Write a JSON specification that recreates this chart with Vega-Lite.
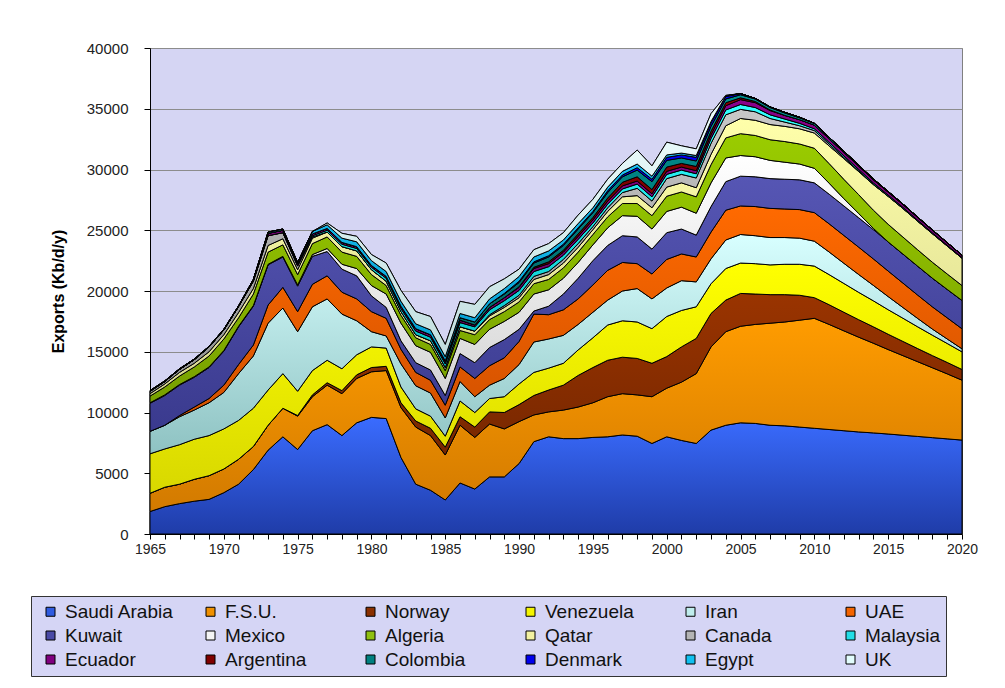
{
"$schema": "https://vega.github.io/schema/vega-lite/v6.json",
"width": 812, "height": 486,
"autosize": {"type": "none"},
"padding": {"left": 150, "top": 48, "right": 43, "bottom": 154},
"background": "white",
"config": {
 "font": "Liberation Sans",
 "view": {"fill": "#D5D5F3", "stroke": "#808080", "strokeWidth": 1},
 "axis": {"labelFont": "Liberation Sans", "labelFontSize": 14, "labelColor": "#222222", "tickColor": "#000000", "domainColor": "#000000", "titleFont": "Liberation Sans"}
},
"data": {"values": [
{"year":1965,"country":"Saudi Arabia","exports":1850},{"year":1966,"country":"Saudi Arabia","exports":2250},{"year":1967,"country":"Saudi Arabia","exports":2500},{"year":1968,"country":"Saudi Arabia","exports":2700},{"year":1969,"country":"Saudi Arabia","exports":2850},{"year":1970,"country":"Saudi Arabia","exports":3400},{"year":1971,"country":"Saudi Arabia","exports":4100},{"year":1972,"country":"Saudi Arabia","exports":5300},{"year":1973,"country":"Saudi Arabia","exports":6900},{"year":1974,"country":"Saudi Arabia","exports":8000},
{"year":1975,"country":"Saudi Arabia","exports":6950},{"year":1976,"country":"Saudi Arabia","exports":8500},{"year":1977,"country":"Saudi Arabia","exports":9000},{"year":1978,"country":"Saudi Arabia","exports":8100},{"year":1979,"country":"Saudi Arabia","exports":9150},{"year":1980,"country":"Saudi Arabia","exports":9600},{"year":1981,"country":"Saudi Arabia","exports":9500},{"year":1982,"country":"Saudi Arabia","exports":6300},{"year":1983,"country":"Saudi Arabia","exports":4100},{"year":1984,"country":"Saudi Arabia","exports":3600},
{"year":1985,"country":"Saudi Arabia","exports":2800},{"year":1986,"country":"Saudi Arabia","exports":4200},{"year":1987,"country":"Saudi Arabia","exports":3700},{"year":1988,"country":"Saudi Arabia","exports":4700},{"year":1989,"country":"Saudi Arabia","exports":4700},{"year":1990,"country":"Saudi Arabia","exports":5800},{"year":1991,"country":"Saudi Arabia","exports":7600},{"year":1992,"country":"Saudi Arabia","exports":8000},{"year":1993,"country":"Saudi Arabia","exports":7850},{"year":1994,"country":"Saudi Arabia","exports":7850},
{"year":1995,"country":"Saudi Arabia","exports":7950},{"year":1996,"country":"Saudi Arabia","exports":8000},{"year":1997,"country":"Saudi Arabia","exports":8150},{"year":1998,"country":"Saudi Arabia","exports":8050},{"year":1999,"country":"Saudi Arabia","exports":7450},{"year":2000,"country":"Saudi Arabia","exports":8000},{"year":2001,"country":"Saudi Arabia","exports":7700},{"year":2002,"country":"Saudi Arabia","exports":7450},{"year":2003,"country":"Saudi Arabia","exports":8550},{"year":2004,"country":"Saudi Arabia","exports":8950},
{"year":2005,"country":"Saudi Arabia","exports":9150},{"year":2006,"country":"Saudi Arabia","exports":9100},{"year":2007,"country":"Saudi Arabia","exports":8950},{"year":2008,"country":"Saudi Arabia","exports":8900},{"year":2009,"country":"Saudi Arabia","exports":8800},{"year":2010,"country":"Saudi Arabia","exports":8700},{"year":2011,"country":"Saudi Arabia","exports":8600},{"year":2012,"country":"Saudi Arabia","exports":8500},{"year":2013,"country":"Saudi Arabia","exports":8400},{"year":2014,"country":"Saudi Arabia","exports":8320},
{"year":2015,"country":"Saudi Arabia","exports":8230},{"year":2016,"country":"Saudi Arabia","exports":8130},{"year":2017,"country":"Saudi Arabia","exports":8030},{"year":2018,"country":"Saudi Arabia","exports":7930},{"year":2019,"country":"Saudi Arabia","exports":7830},{"year":2020,"country":"Saudi Arabia","exports":7730},

{"year":1965,"country":"F.S.U.","exports":1500},{"year":1966,"country":"F.S.U.","exports":1600},{"year":1967,"country":"F.S.U.","exports":1600},{"year":1968,"country":"F.S.U.","exports":1800},{"year":1969,"country":"F.S.U.","exports":1950},{"year":1970,"country":"F.S.U.","exports":1950},{"year":1971,"country":"F.S.U.","exports":2050},{"year":1972,"country":"F.S.U.","exports":1900},{"year":1973,"country":"F.S.U.","exports":2050},{"year":1974,"country":"F.S.U.","exports":2350},
{"year":1975,"country":"F.S.U.","exports":2750},{"year":1976,"country":"F.S.U.","exports":2800},{"year":1977,"country":"F.S.U.","exports":3250},{"year":1978,"country":"F.S.U.","exports":3450},{"year":1979,"country":"F.S.U.","exports":3650},{"year":1980,"country":"F.S.U.","exports":3750},{"year":1981,"country":"F.S.U.","exports":3950},{"year":1982,"country":"F.S.U.","exports":4100},{"year":1983,"country":"F.S.U.","exports":4700},{"year":1984,"country":"F.S.U.","exports":4500},
{"year":1985,"country":"F.S.U.","exports":3700},{"year":1986,"country":"F.S.U.","exports":4750},{"year":1987,"country":"F.S.U.","exports":4250},{"year":1988,"country":"F.S.U.","exports":4350},{"year":1989,"country":"F.S.U.","exports":3950},{"year":1990,"country":"F.S.U.","exports":3450},{"year":1991,"country":"F.S.U.","exports":2200},{"year":1992,"country":"F.S.U.","exports":2050},{"year":1993,"country":"F.S.U.","exports":2350},{"year":1994,"country":"F.S.U.","exports":2600},
{"year":1995,"country":"F.S.U.","exports":2850},{"year":1996,"country":"F.S.U.","exports":3300},{"year":1997,"country":"F.S.U.","exports":3400},{"year":1998,"country":"F.S.U.","exports":3400},{"year":1999,"country":"F.S.U.","exports":3850},{"year":2000,"country":"F.S.U.","exports":4000},{"year":2001,"country":"F.S.U.","exports":4800},{"year":2002,"country":"F.S.U.","exports":5750},{"year":2003,"country":"F.S.U.","exports":6850},{"year":2004,"country":"F.S.U.","exports":7700},
{"year":2005,"country":"F.S.U.","exports":7950},{"year":2006,"country":"F.S.U.","exports":8150},{"year":2007,"country":"F.S.U.","exports":8400},{"year":2008,"country":"F.S.U.","exports":8550},{"year":2009,"country":"F.S.U.","exports":8800},{"year":2010,"country":"F.S.U.","exports":9050},{"year":2011,"country":"F.S.U.","exports":8650},{"year":2012,"country":"F.S.U.","exports":8220},{"year":2013,"country":"F.S.U.","exports":7800},{"year":2014,"country":"F.S.U.","exports":7380},
{"year":2015,"country":"F.S.U.","exports":6950},{"year":2016,"country":"F.S.U.","exports":6550},{"year":2017,"country":"F.S.U.","exports":6150},{"year":2018,"country":"F.S.U.","exports":5750},{"year":2019,"country":"F.S.U.","exports":5350},{"year":2020,"country":"F.S.U.","exports":4930},

{"year":1965,"country":"Norway","exports":0},{"year":1966,"country":"Norway","exports":0},{"year":1967,"country":"Norway","exports":0},{"year":1968,"country":"Norway","exports":0},{"year":1969,"country":"Norway","exports":0},{"year":1970,"country":"Norway","exports":0},{"year":1971,"country":"Norway","exports":0},{"year":1972,"country":"Norway","exports":0},{"year":1973,"country":"Norway","exports":0},{"year":1974,"country":"Norway","exports":0},
{"year":1975,"country":"Norway","exports":50},{"year":1976,"country":"Norway","exports":150},{"year":1977,"country":"Norway","exports":200},{"year":1978,"country":"Norway","exports":250},{"year":1979,"country":"Norway","exports":300},{"year":1980,"country":"Norway","exports":350},{"year":1981,"country":"Norway","exports":350},{"year":1982,"country":"Norway","exports":400},{"year":1983,"country":"Norway","exports":500},{"year":1984,"country":"Norway","exports":600},
{"year":1985,"country":"Norway","exports":650},{"year":1986,"country":"Norway","exports":700},{"year":1987,"country":"Norway","exports":850},{"year":1988,"country":"Norway","exports":1000},{"year":1989,"country":"Norway","exports":1350},{"year":1990,"country":"Norway","exports":1400},{"year":1991,"country":"Norway","exports":1600},{"year":1992,"country":"Norway","exports":1800},{"year":1993,"country":"Norway","exports":2050},{"year":1994,"country":"Norway","exports":2600},
{"year":1995,"country":"Norway","exports":2900},{"year":1996,"country":"Norway","exports":3000},{"year":1997,"country":"Norway","exports":3000},{"year":1998,"country":"Norway","exports":3000},{"year":1999,"country":"Norway","exports":2750},{"year":2000,"country":"Norway","exports":2600},{"year":2001,"country":"Norway","exports":2900},{"year":2002,"country":"Norway","exports":2900},{"year":2003,"country":"Norway","exports":2750},{"year":2004,"country":"Norway","exports":2600},
{"year":2005,"country":"Norway","exports":2700},{"year":2006,"country":"Norway","exports":2500},{"year":2007,"country":"Norway","exports":2350},{"year":2008,"country":"Norway","exports":2250},{"year":2009,"country":"Norway","exports":2050},{"year":2010,"country":"Norway","exports":1700},{"year":2011,"country":"Norway","exports":1620},{"year":2012,"country":"Norway","exports":1530},{"year":2013,"country":"Norway","exports":1440},{"year":2014,"country":"Norway","exports":1350},
{"year":2015,"country":"Norway","exports":1260},{"year":2016,"country":"Norway","exports":1170},{"year":2017,"country":"Norway","exports":1080},{"year":2018,"country":"Norway","exports":1000},{"year":2019,"country":"Norway","exports":940},{"year":2020,"country":"Norway","exports":880},

{"year":1965,"country":"Venezuela","exports":3250},{"year":1966,"country":"Venezuela","exports":3150},{"year":1967,"country":"Venezuela","exports":3250},{"year":1968,"country":"Venezuela","exports":3300},{"year":1969,"country":"Venezuela","exports":3300},{"year":1970,"country":"Venezuela","exports":3300},{"year":1971,"country":"Venezuela","exports":3200},{"year":1972,"country":"Venezuela","exports":3150},{"year":1973,"country":"Venezuela","exports":2900},{"year":1974,"country":"Venezuela","exports":2850},
{"year":1975,"country":"Venezuela","exports":2000},{"year":1976,"country":"Venezuela","exports":2000},{"year":1977,"country":"Venezuela","exports":1850},{"year":1978,"country":"Venezuela","exports":1800},{"year":1979,"country":"Venezuela","exports":1650},{"year":1980,"country":"Venezuela","exports":1700},{"year":1981,"country":"Venezuela","exports":1500},{"year":1982,"country":"Venezuela","exports":1300},{"year":1983,"country":"Venezuela","exports":1000},{"year":1984,"country":"Venezuela","exports":1000},
{"year":1985,"country":"Venezuela","exports":900},{"year":1986,"country":"Venezuela","exports":1300},{"year":1987,"country":"Venezuela","exports":1200},{"year":1988,"country":"Venezuela","exports":1100},{"year":1989,"country":"Venezuela","exports":1300},{"year":1990,"country":"Venezuela","exports":1700},{"year":1991,"country":"Venezuela","exports":1900},{"year":1992,"country":"Venezuela","exports":1800},{"year":1993,"country":"Venezuela","exports":1800},{"year":1994,"country":"Venezuela","exports":2100},
{"year":1995,"country":"Venezuela","exports":2450},{"year":1996,"country":"Venezuela","exports":2900},{"year":1997,"country":"Venezuela","exports":3000},{"year":1998,"country":"Venezuela","exports":3000},{"year":1999,"country":"Venezuela","exports":2850},{"year":2000,"country":"Venezuela","exports":3300},{"year":2001,"country":"Venezuela","exports":3000},{"year":2002,"country":"Venezuela","exports":2600},{"year":2003,"country":"Venezuela","exports":2450},{"year":2004,"country":"Venezuela","exports":2600},
{"year":2005,"country":"Venezuela","exports":2500},{"year":2006,"country":"Venezuela","exports":2500},{"year":2007,"country":"Venezuela","exports":2450},{"year":2008,"country":"Venezuela","exports":2500},{"year":2009,"country":"Venezuela","exports":2550},{"year":2010,"country":"Venezuela","exports":2600},{"year":2011,"country":"Venezuela","exports":2480},{"year":2012,"country":"Venezuela","exports":2370},{"year":2013,"country":"Venezuela","exports":2250},{"year":2014,"country":"Venezuela","exports":2140},
{"year":2015,"country":"Venezuela","exports":2020},{"year":2016,"country":"Venezuela","exports":1910},{"year":2017,"country":"Venezuela","exports":1790},{"year":2018,"country":"Venezuela","exports":1680},{"year":2019,"country":"Venezuela","exports":1560},{"year":2020,"country":"Venezuela","exports":1450},

{"year":1965,"country":"Iran","exports":1850},{"year":1966,"country":"Iran","exports":1950},{"year":1967,"country":"Iran","exports":2300},{"year":1968,"country":"Iran","exports":2400},{"year":1969,"country":"Iran","exports":2700},{"year":1970,"country":"Iran","exports":3000},{"year":1971,"country":"Iran","exports":3850},{"year":1972,"country":"Iran","exports":4300},{"year":1973,"country":"Iran","exports":5500},{"year":1974,"country":"Iran","exports":5400},
{"year":1975,"country":"Iran","exports":4900},{"year":1976,"country":"Iran","exports":5250},{"year":1977,"country":"Iran","exports":5050},{"year":1978,"country":"Iran","exports":4500},{"year":1979,"country":"Iran","exports":2800},{"year":1980,"country":"Iran","exports":1250},{"year":1981,"country":"Iran","exports":1000},{"year":1982,"country":"Iran","exports":1900},{"year":1983,"country":"Iran","exports":1900},{"year":1984,"country":"Iran","exports":1900},
{"year":1985,"country":"Iran","exports":1500},{"year":1986,"country":"Iran","exports":1600},{"year":1987,"country":"Iran","exports":1300},{"year":1988,"country":"Iran","exports":1100},{"year":1989,"country":"Iran","exports":1500},{"year":1990,"country":"Iran","exports":1600},{"year":1991,"country":"Iran","exports":2500},{"year":1992,"country":"Iran","exports":2400},{"year":1993,"country":"Iran","exports":2300},{"year":1994,"country":"Iran","exports":2100},
{"year":1995,"country":"Iran","exports":2100},{"year":1996,"country":"Iran","exports":2050},{"year":1997,"country":"Iran","exports":2450},{"year":1998,"country":"Iran","exports":2750},{"year":1999,"country":"Iran","exports":2450},{"year":2000,"country":"Iran","exports":2350},{"year":2001,"country":"Iran","exports":2450},{"year":2002,"country":"Iran","exports":2050},{"year":2003,"country":"Iran","exports":2050},{"year":2004,"country":"Iran","exports":2350},
{"year":2005,"country":"Iran","exports":2350},{"year":2006,"country":"Iran","exports":2300},{"year":2007,"country":"Iran","exports":2250},{"year":2008,"country":"Iran","exports":2200},{"year":2009,"country":"Iran","exports":2150},{"year":2010,"country":"Iran","exports":2050},{"year":2011,"country":"Iran","exports":1860},{"year":2012,"country":"Iran","exports":1660},{"year":2013,"country":"Iran","exports":1470},{"year":2014,"country":"Iran","exports":1270},
{"year":2015,"country":"Iran","exports":1080},{"year":2016,"country":"Iran","exports":880},{"year":2017,"country":"Iran","exports":690},{"year":2018,"country":"Iran","exports":500},{"year":2019,"country":"Iran","exports":370},{"year":2020,"country":"Iran","exports":250},

{"year":1965,"country":"UAE","exports":0},{"year":1966,"country":"UAE","exports":0},{"year":1967,"country":"UAE","exports":100},{"year":1968,"country":"UAE","exports":250},{"year":1969,"country":"UAE","exports":350},{"year":1970,"country":"UAE","exports":600},{"year":1971,"country":"UAE","exports":750},{"year":1972,"country":"UAE","exports":900},{"year":1973,"country":"UAE","exports":1500},{"year":1974,"country":"UAE","exports":1700},
{"year":1975,"country":"UAE","exports":1650},{"year":1976,"country":"UAE","exports":1850},{"year":1977,"country":"UAE","exports":1900},{"year":1978,"country":"UAE","exports":1800},{"year":1979,"country":"UAE","exports":1800},{"year":1980,"country":"UAE","exports":1650},{"year":1981,"country":"UAE","exports":1450},{"year":1982,"country":"UAE","exports":1200},{"year":1983,"country":"UAE","exports":1100},{"year":1984,"country":"UAE","exports":1050},
{"year":1985,"country":"UAE","exports":1050},{"year":1986,"country":"UAE","exports":1200},{"year":1987,"country":"UAE","exports":1500},{"year":1988,"country":"UAE","exports":1600},{"year":1989,"country":"UAE","exports":1700},{"year":1990,"country":"UAE","exports":1900},{"year":1991,"country":"UAE","exports":2300},{"year":1992,"country":"UAE","exports":2000},{"year":1993,"country":"UAE","exports":2100},{"year":1994,"country":"UAE","exports":2100},
{"year":1995,"country":"UAE","exports":2250},{"year":1996,"country":"UAE","exports":2450},{"year":1997,"country":"UAE","exports":2350},{"year":1998,"country":"UAE","exports":2050},{"year":1999,"country":"UAE","exports":2050},{"year":2000,"country":"UAE","exports":2350},{"year":2001,"country":"UAE","exports":2200},{"year":2002,"country":"UAE","exports":2050},{"year":2003,"country":"UAE","exports":2200},{"year":2004,"country":"UAE","exports":2450},
{"year":2005,"country":"UAE","exports":2350},{"year":2006,"country":"UAE","exports":2400},{"year":2007,"country":"UAE","exports":2400},{"year":2008,"country":"UAE","exports":2350},{"year":2009,"country":"UAE","exports":2350},{"year":2010,"country":"UAE","exports":2350},{"year":2011,"country":"UAE","exports":2320},{"year":2012,"country":"UAE","exports":2290},{"year":2013,"country":"UAE","exports":2250},{"year":2014,"country":"UAE","exports":2180},
{"year":2015,"country":"UAE","exports":2100},{"year":2016,"country":"UAE","exports":2010},{"year":2017,"country":"UAE","exports":1920},{"year":2018,"country":"UAE","exports":1830},{"year":2019,"country":"UAE","exports":1740},{"year":2020,"country":"UAE","exports":1650},

{"year":1965,"country":"Kuwait","exports":2300},{"year":1966,"country":"Kuwait","exports":2450},{"year":1967,"country":"Kuwait","exports":2500},{"year":1968,"country":"Kuwait","exports":2450},{"year":1969,"country":"Kuwait","exports":2550},{"year":1970,"country":"Kuwait","exports":2800},{"year":1971,"country":"Kuwait","exports":3100},{"year":1972,"country":"Kuwait","exports":3200},{"year":1973,"country":"Kuwait","exports":3300},{"year":1974,"country":"Kuwait","exports":2500},
{"year":1975,"country":"Kuwait","exports":2100},{"year":1976,"country":"Kuwait","exports":2300},{"year":1977,"country":"Kuwait","exports":2000},{"year":1978,"country":"Kuwait","exports":1900},{"year":1979,"country":"Kuwait","exports":1900},{"year":1980,"country":"Kuwait","exports":1300},{"year":1981,"country":"Kuwait","exports":900},{"year":1982,"country":"Kuwait","exports":700},{"year":1983,"country":"Kuwait","exports":800},{"year":1984,"country":"Kuwait","exports":850},
{"year":1985,"country":"Kuwait","exports":800},{"year":1986,"country":"Kuwait","exports":1100},{"year":1987,"country":"Kuwait","exports":1300},{"year":1988,"country":"Kuwait","exports":1500},{"year":1989,"country":"Kuwait","exports":1500},{"year":1990,"country":"Kuwait","exports":1000},{"year":1991,"country":"Kuwait","exports":250},{"year":1992,"country":"Kuwait","exports":700},{"year":1993,"country":"Kuwait","exports":1300},{"year":1994,"country":"Kuwait","exports":1700},
{"year":1995,"country":"Kuwait","exports":2000},{"year":1996,"country":"Kuwait","exports":2050},{"year":1997,"country":"Kuwait","exports":2200},{"year":1998,"country":"Kuwait","exports":2200},{"year":1999,"country":"Kuwait","exports":2050},{"year":2000,"country":"Kuwait","exports":2200},{"year":2001,"country":"Kuwait","exports":2050},{"year":2002,"country":"Kuwait","exports":1800},{"year":2003,"country":"Kuwait","exports":2100},{"year":2004,"country":"Kuwait","exports":2350},
{"year":2005,"country":"Kuwait","exports":2450},{"year":2006,"country":"Kuwait","exports":2450},{"year":2007,"country":"Kuwait","exports":2450},{"year":2008,"country":"Kuwait","exports":2450},{"year":2009,"country":"Kuwait","exports":2450},{"year":2010,"country":"Kuwait","exports":2450},{"year":2011,"country":"Kuwait","exports":2440},{"year":2012,"country":"Kuwait","exports":2430},{"year":2013,"country":"Kuwait","exports":2420},{"year":2014,"country":"Kuwait","exports":2410},
{"year":2015,"country":"Kuwait","exports":2400},{"year":2016,"country":"Kuwait","exports":2390},{"year":2017,"country":"Kuwait","exports":2380},{"year":2018,"country":"Kuwait","exports":2360},{"year":2019,"country":"Kuwait","exports":2340},{"year":2020,"country":"Kuwait","exports":2330},

{"year":1965,"country":"Mexico","exports":50},{"year":1966,"country":"Mexico","exports":50},{"year":1967,"country":"Mexico","exports":50},{"year":1968,"country":"Mexico","exports":50},{"year":1969,"country":"Mexico","exports":50},{"year":1970,"country":"Mexico","exports":50},{"year":1971,"country":"Mexico","exports":50},{"year":1972,"country":"Mexico","exports":50},{"year":1973,"country":"Mexico","exports":50},{"year":1974,"country":"Mexico","exports":50},
{"year":1975,"country":"Mexico","exports":100},{"year":1976,"country":"Mexico","exports":150},{"year":1977,"country":"Mexico","exports":250},{"year":1978,"country":"Mexico","exports":400},{"year":1979,"country":"Mexico","exports":600},{"year":1980,"country":"Mexico","exports":850},{"year":1981,"country":"Mexico","exports":1100},{"year":1982,"country":"Mexico","exports":1450},{"year":1983,"country":"Mexico","exports":1400},{"year":1984,"country":"Mexico","exports":1450},
{"year":1985,"country":"Mexico","exports":1400},{"year":1986,"country":"Mexico","exports":1250},{"year":1987,"country":"Mexico","exports":1500},{"year":1988,"country":"Mexico","exports":1500},{"year":1989,"country":"Mexico","exports":1500},{"year":1990,"country":"Mexico","exports":1400},{"year":1991,"country":"Mexico","exports":1400},{"year":1992,"country":"Mexico","exports":1350},{"year":1993,"country":"Mexico","exports":1300},{"year":1994,"country":"Mexico","exports":1300},
{"year":1995,"country":"Mexico","exports":1300},{"year":1996,"country":"Mexico","exports":1450},{"year":1997,"country":"Mexico","exports":1650},{"year":1998,"country":"Mexico","exports":1700},{"year":1999,"country":"Mexico","exports":1650},{"year":2000,"country":"Mexico","exports":1750},{"year":2001,"country":"Mexico","exports":1800},{"year":2002,"country":"Mexico","exports":1800},{"year":2003,"country":"Mexico","exports":1950},{"year":2004,"country":"Mexico","exports":1950},
{"year":2005,"country":"Mexico","exports":1700},{"year":2006,"country":"Mexico","exports":1650},{"year":2007,"country":"Mexico","exports":1500},{"year":2008,"country":"Mexico","exports":1400},{"year":2009,"country":"Mexico","exports":1300},{"year":2010,"country":"Mexico","exports":1200},{"year":2011,"country":"Mexico","exports":900},{"year":2012,"country":"Mexico","exports":600},{"year":2013,"country":"Mexico","exports":350},{"year":2014,"country":"Mexico","exports":100},
{"year":2015,"country":"Mexico","exports":0},{"year":2016,"country":"Mexico","exports":0},{"year":2017,"country":"Mexico","exports":0},{"year":2018,"country":"Mexico","exports":0},{"year":2019,"country":"Mexico","exports":0},{"year":2020,"country":"Mexico","exports":0},

{"year":1965,"country":"Algeria","exports":550},{"year":1966,"country":"Algeria","exports":650},{"year":1967,"country":"Algeria","exports":700},{"year":1968,"country":"Algeria","exports":800},{"year":1969,"country":"Algeria","exports":900},{"year":1970,"country":"Algeria","exports":950},{"year":1971,"country":"Algeria","exports":700},{"year":1972,"country":"Algeria","exports":950},{"year":1973,"country":"Algeria","exports":1000},{"year":1974,"country":"Algeria","exports":950},
{"year":1975,"country":"Algeria","exports":850},{"year":1976,"country":"Algeria","exports":900},{"year":1977,"country":"Algeria","exports":950},{"year":1978,"country":"Algeria","exports":1000},{"year":1979,"country":"Algeria","exports":1000},{"year":1980,"country":"Algeria","exports":900},{"year":1981,"country":"Algeria","exports":700},{"year":1982,"country":"Algeria","exports":650},{"year":1983,"country":"Algeria","exports":650},{"year":1984,"country":"Algeria","exports":650},
{"year":1985,"country":"Algeria","exports":650},{"year":1986,"country":"Algeria","exports":650},{"year":1987,"country":"Algeria","exports":800},{"year":1988,"country":"Algeria","exports":800},{"year":1989,"country":"Algeria","exports":800},{"year":1990,"country":"Algeria","exports":850},{"year":1991,"country":"Algeria","exports":850},{"year":1992,"country":"Algeria","exports":850},{"year":1993,"country":"Algeria","exports":850},{"year":1994,"country":"Algeria","exports":850},
{"year":1995,"country":"Algeria","exports":850},{"year":1996,"country":"Algeria","exports":900},{"year":1997,"country":"Algeria","exports":1000},{"year":1998,"country":"Algeria","exports":1050},{"year":1999,"country":"Algeria","exports":1100},{"year":2000,"country":"Algeria","exports":1250},{"year":2001,"country":"Algeria","exports":1250},{"year":2002,"country":"Algeria","exports":1350},{"year":2003,"country":"Algeria","exports":1500},{"year":2004,"country":"Algeria","exports":1650},
{"year":2005,"country":"Algeria","exports":1800},{"year":2006,"country":"Algeria","exports":1750},{"year":2007,"country":"Algeria","exports":1700},{"year":2008,"country":"Algeria","exports":1700},{"year":2009,"country":"Algeria","exports":1650},{"year":2010,"country":"Algeria","exports":1650},{"year":2011,"country":"Algeria","exports":1620},{"year":2012,"country":"Algeria","exports":1590},{"year":2013,"country":"Algeria","exports":1550},{"year":2014,"country":"Algeria","exports":1500},
{"year":2015,"country":"Algeria","exports":1450},{"year":2016,"country":"Algeria","exports":1400},{"year":2017,"country":"Algeria","exports":1350},{"year":2018,"country":"Algeria","exports":1310},{"year":2019,"country":"Algeria","exports":1270},{"year":2020,"country":"Algeria","exports":1230},

{"year":1965,"country":"Qatar","exports":200},{"year":1966,"country":"Qatar","exports":250},{"year":1967,"country":"Qatar","exports":300},{"year":1968,"country":"Qatar","exports":300},{"year":1969,"country":"Qatar","exports":350},{"year":1970,"country":"Qatar","exports":350},{"year":1971,"country":"Qatar","exports":430},{"year":1972,"country":"Qatar","exports":450},{"year":1973,"country":"Qatar","exports":550},{"year":1974,"country":"Qatar","exports":500},
{"year":1975,"country":"Qatar","exports":400},{"year":1976,"country":"Qatar","exports":450},{"year":1977,"country":"Qatar","exports":400},{"year":1978,"country":"Qatar","exports":450},{"year":1979,"country":"Qatar","exports":450},{"year":1980,"country":"Qatar","exports":400},{"year":1981,"country":"Qatar","exports":350},{"year":1982,"country":"Qatar","exports":300},{"year":1983,"country":"Qatar","exports":250},{"year":1984,"country":"Qatar","exports":300},
{"year":1985,"country":"Qatar","exports":250},{"year":1986,"country":"Qatar","exports":300},{"year":1987,"country":"Qatar","exports":300},{"year":1988,"country":"Qatar","exports":300},{"year":1989,"country":"Qatar","exports":350},{"year":1990,"country":"Qatar","exports":350},{"year":1991,"country":"Qatar","exports":350},{"year":1992,"country":"Qatar","exports":400},{"year":1993,"country":"Qatar","exports":400},{"year":1994,"country":"Qatar","exports":400},
{"year":1995,"country":"Qatar","exports":400},{"year":1996,"country":"Qatar","exports":450},{"year":1997,"country":"Qatar","exports":550},{"year":1998,"country":"Qatar","exports":650},{"year":1999,"country":"Qatar","exports":650},{"year":2000,"country":"Qatar","exports":750},{"year":2001,"country":"Qatar","exports":750},{"year":2002,"country":"Qatar","exports":750},{"year":2003,"country":"Qatar","exports":850},{"year":2004,"country":"Qatar","exports":1000},
{"year":2005,"country":"Qatar","exports":1250},{"year":2006,"country":"Qatar","exports":1250},{"year":2007,"country":"Qatar","exports":1250},{"year":2008,"country":"Qatar","exports":1250},{"year":2009,"country":"Qatar","exports":1250},{"year":2010,"country":"Qatar","exports":1250},{"year":2011,"country":"Qatar","exports":1450},{"year":2012,"country":"Qatar","exports":1700},{"year":2013,"country":"Qatar","exports":1900},{"year":2014,"country":"Qatar","exports":2100},
{"year":2015,"country":"Qatar","exports":2300},{"year":2016,"country":"Qatar","exports":2350},{"year":2017,"country":"Qatar","exports":2350},{"year":2018,"country":"Qatar","exports":2350},{"year":2019,"country":"Qatar","exports":2300},{"year":2020,"country":"Qatar","exports":2250},

{"year":1965,"country":"Canada","exports":200},{"year":1966,"country":"Canada","exports":200},{"year":1967,"country":"Canada","exports":250},{"year":1968,"country":"Canada","exports":300},{"year":1969,"country":"Canada","exports":400},{"year":1970,"country":"Canada","exports":400},{"year":1971,"country":"Canada","exports":500},{"year":1972,"country":"Canada","exports":600},{"year":1973,"country":"Canada","exports":800},{"year":1974,"country":"Canada","exports":500},
{"year":1975,"country":"Canada","exports":300},{"year":1976,"country":"Canada","exports":100},{"year":1977,"country":"Canada","exports":0},{"year":1978,"country":"Canada","exports":0},{"year":1979,"country":"Canada","exports":0},{"year":1980,"country":"Canada","exports":0},{"year":1981,"country":"Canada","exports":0},{"year":1982,"country":"Canada","exports":0},{"year":1983,"country":"Canada","exports":0},{"year":1984,"country":"Canada","exports":0},
{"year":1985,"country":"Canada","exports":0},{"year":1986,"country":"Canada","exports":0},{"year":1987,"country":"Canada","exports":0},{"year":1988,"country":"Canada","exports":100},{"year":1989,"country":"Canada","exports":150},{"year":1990,"country":"Canada","exports":200},{"year":1991,"country":"Canada","exports":250},{"year":1992,"country":"Canada","exports":250},{"year":1993,"country":"Canada","exports":300},{"year":1994,"country":"Canada","exports":300},
{"year":1995,"country":"Canada","exports":250},{"year":1996,"country":"Canada","exports":300},{"year":1997,"country":"Canada","exports":350},{"year":1998,"country":"Canada","exports":600},{"year":1999,"country":"Canada","exports":550},{"year":2000,"country":"Canada","exports":700},{"year":2001,"country":"Canada","exports":700},{"year":2002,"country":"Canada","exports":800},{"year":2003,"country":"Canada","exports":900},{"year":2004,"country":"Canada","exports":900},
{"year":2005,"country":"Canada","exports":750},{"year":2006,"country":"Canada","exports":700},{"year":2007,"country":"Canada","exports":500},{"year":2008,"country":"Canada","exports":350},{"year":2009,"country":"Canada","exports":250},{"year":2010,"country":"Canada","exports":200},{"year":2011,"country":"Canada","exports":150},{"year":2012,"country":"Canada","exports":100},{"year":2013,"country":"Canada","exports":60},{"year":2014,"country":"Canada","exports":30},
{"year":2015,"country":"Canada","exports":0},{"year":2016,"country":"Canada","exports":0},{"year":2017,"country":"Canada","exports":0},{"year":2018,"country":"Canada","exports":0},{"year":2019,"country":"Canada","exports":0},{"year":2020,"country":"Canada","exports":0},

{"year":1965,"country":"Malaysia","exports":0},{"year":1966,"country":"Malaysia","exports":0},{"year":1967,"country":"Malaysia","exports":0},{"year":1968,"country":"Malaysia","exports":0},{"year":1969,"country":"Malaysia","exports":0},{"year":1970,"country":"Malaysia","exports":0},{"year":1971,"country":"Malaysia","exports":0},{"year":1972,"country":"Malaysia","exports":0},{"year":1973,"country":"Malaysia","exports":0},{"year":1974,"country":"Malaysia","exports":0},
{"year":1975,"country":"Malaysia","exports":50},{"year":1976,"country":"Malaysia","exports":100},{"year":1977,"country":"Malaysia","exports":150},{"year":1978,"country":"Malaysia","exports":200},{"year":1979,"country":"Malaysia","exports":200},{"year":1980,"country":"Malaysia","exports":200},{"year":1981,"country":"Malaysia","exports":250},{"year":1982,"country":"Malaysia","exports":250},{"year":1983,"country":"Malaysia","exports":300},{"year":1984,"country":"Malaysia","exports":300},
{"year":1985,"country":"Malaysia","exports":300},{"year":1986,"country":"Malaysia","exports":350},{"year":1987,"country":"Malaysia","exports":350},{"year":1988,"country":"Malaysia","exports":400},{"year":1989,"country":"Malaysia","exports":400},{"year":1990,"country":"Malaysia","exports":400},{"year":1991,"country":"Malaysia","exports":400},{"year":1992,"country":"Malaysia","exports":400},{"year":1993,"country":"Malaysia","exports":350},{"year":1994,"country":"Malaysia","exports":350},
{"year":1995,"country":"Malaysia","exports":300},{"year":1996,"country":"Malaysia","exports":300},{"year":1997,"country":"Malaysia","exports":300},{"year":1998,"country":"Malaysia","exports":350},{"year":1999,"country":"Malaysia","exports":350},{"year":2000,"country":"Malaysia","exports":350},{"year":2001,"country":"Malaysia","exports":350},{"year":2002,"country":"Malaysia","exports":350},{"year":2003,"country":"Malaysia","exports":400},{"year":2004,"country":"Malaysia","exports":400},
{"year":2005,"country":"Malaysia","exports":400},{"year":2006,"country":"Malaysia","exports":350},{"year":2007,"country":"Malaysia","exports":300},{"year":2008,"country":"Malaysia","exports":250},{"year":2009,"country":"Malaysia","exports":200},{"year":2010,"country":"Malaysia","exports":150},{"year":2011,"country":"Malaysia","exports":140},{"year":2012,"country":"Malaysia","exports":130},{"year":2013,"country":"Malaysia","exports":120},{"year":2014,"country":"Malaysia","exports":110},
{"year":2015,"country":"Malaysia","exports":100},{"year":2016,"country":"Malaysia","exports":90},{"year":2017,"country":"Malaysia","exports":80},{"year":2018,"country":"Malaysia","exports":70},{"year":2019,"country":"Malaysia","exports":60},{"year":2020,"country":"Malaysia","exports":50},

{"year":1965,"country":"Ecuador","exports":0},{"year":1966,"country":"Ecuador","exports":0},{"year":1967,"country":"Ecuador","exports":0},{"year":1968,"country":"Ecuador","exports":0},{"year":1969,"country":"Ecuador","exports":0},{"year":1970,"country":"Ecuador","exports":0},{"year":1971,"country":"Ecuador","exports":0},{"year":1972,"country":"Ecuador","exports":100},{"year":1973,"country":"Ecuador","exports":200},{"year":1974,"country":"Ecuador","exports":200},
{"year":1975,"country":"Ecuador","exports":150},{"year":1976,"country":"Ecuador","exports":150},{"year":1977,"country":"Ecuador","exports":150},{"year":1978,"country":"Ecuador","exports":150},{"year":1979,"country":"Ecuador","exports":150},{"year":1980,"country":"Ecuador","exports":150},{"year":1981,"country":"Ecuador","exports":150},{"year":1982,"country":"Ecuador","exports":200},{"year":1983,"country":"Ecuador","exports":200},{"year":1984,"country":"Ecuador","exports":200},
{"year":1985,"country":"Ecuador","exports":200},{"year":1986,"country":"Ecuador","exports":200},{"year":1987,"country":"Ecuador","exports":150},{"year":1988,"country":"Ecuador","exports":200},{"year":1989,"country":"Ecuador","exports":250},{"year":1990,"country":"Ecuador","exports":250},{"year":1991,"country":"Ecuador","exports":250},{"year":1992,"country":"Ecuador","exports":250},{"year":1993,"country":"Ecuador","exports":250},{"year":1994,"country":"Ecuador","exports":250},
{"year":1995,"country":"Ecuador","exports":250},{"year":1996,"country":"Ecuador","exports":250},{"year":1997,"country":"Ecuador","exports":250},{"year":1998,"country":"Ecuador","exports":250},{"year":1999,"country":"Ecuador","exports":250},{"year":2000,"country":"Ecuador","exports":250},{"year":2001,"country":"Ecuador","exports":250},{"year":2002,"country":"Ecuador","exports":250},{"year":2003,"country":"Ecuador","exports":300},{"year":2004,"country":"Ecuador","exports":350},
{"year":2005,"country":"Ecuador","exports":400},{"year":2006,"country":"Ecuador","exports":400},{"year":2007,"country":"Ecuador","exports":350},{"year":2008,"country":"Ecuador","exports":300},{"year":2009,"country":"Ecuador","exports":300},{"year":2010,"country":"Ecuador","exports":300},{"year":2011,"country":"Ecuador","exports":290},{"year":2012,"country":"Ecuador","exports":280},{"year":2013,"country":"Ecuador","exports":270},{"year":2014,"country":"Ecuador","exports":260},
{"year":2015,"country":"Ecuador","exports":250},{"year":2016,"country":"Ecuador","exports":240},{"year":2017,"country":"Ecuador","exports":230},{"year":2018,"country":"Ecuador","exports":220},{"year":2019,"country":"Ecuador","exports":210},{"year":2020,"country":"Ecuador","exports":200},

{"year":1965,"country":"Argentina","exports":0},{"year":1966,"country":"Argentina","exports":0},{"year":1967,"country":"Argentina","exports":0},{"year":1968,"country":"Argentina","exports":0},{"year":1969,"country":"Argentina","exports":0},{"year":1970,"country":"Argentina","exports":0},{"year":1971,"country":"Argentina","exports":0},{"year":1972,"country":"Argentina","exports":0},{"year":1973,"country":"Argentina","exports":0},{"year":1974,"country":"Argentina","exports":0},
{"year":1975,"country":"Argentina","exports":0},{"year":1976,"country":"Argentina","exports":0},{"year":1977,"country":"Argentina","exports":0},{"year":1978,"country":"Argentina","exports":0},{"year":1979,"country":"Argentina","exports":0},{"year":1980,"country":"Argentina","exports":0},{"year":1981,"country":"Argentina","exports":0},{"year":1982,"country":"Argentina","exports":0},{"year":1983,"country":"Argentina","exports":0},{"year":1984,"country":"Argentina","exports":0},
{"year":1985,"country":"Argentina","exports":0},{"year":1986,"country":"Argentina","exports":0},{"year":1987,"country":"Argentina","exports":0},{"year":1988,"country":"Argentina","exports":0},{"year":1989,"country":"Argentina","exports":0},{"year":1990,"country":"Argentina","exports":50},{"year":1991,"country":"Argentina","exports":100},{"year":1992,"country":"Argentina","exports":150},{"year":1993,"country":"Argentina","exports":150},{"year":1994,"country":"Argentina","exports":200},
{"year":1995,"country":"Argentina","exports":200},{"year":1996,"country":"Argentina","exports":250},{"year":1997,"country":"Argentina","exports":300},{"year":1998,"country":"Argentina","exports":350},{"year":1999,"country":"Argentina","exports":350},{"year":2000,"country":"Argentina","exports":350},{"year":2001,"country":"Argentina","exports":300},{"year":2002,"country":"Argentina","exports":350},{"year":2003,"country":"Argentina","exports":300},{"year":2004,"country":"Argentina","exports":250},
{"year":2005,"country":"Argentina","exports":150},{"year":2006,"country":"Argentina","exports":100},{"year":2007,"country":"Argentina","exports":50},{"year":2008,"country":"Argentina","exports":0},{"year":2009,"country":"Argentina","exports":0},{"year":2010,"country":"Argentina","exports":0},{"year":2011,"country":"Argentina","exports":0},{"year":2012,"country":"Argentina","exports":0},{"year":2013,"country":"Argentina","exports":0},{"year":2014,"country":"Argentina","exports":0},
{"year":2015,"country":"Argentina","exports":0},{"year":2016,"country":"Argentina","exports":0},{"year":2017,"country":"Argentina","exports":0},{"year":2018,"country":"Argentina","exports":0},{"year":2019,"country":"Argentina","exports":0},{"year":2020,"country":"Argentina","exports":0},

{"year":1965,"country":"Colombia","exports":0},{"year":1966,"country":"Colombia","exports":0},{"year":1967,"country":"Colombia","exports":0},{"year":1968,"country":"Colombia","exports":0},{"year":1969,"country":"Colombia","exports":0},{"year":1970,"country":"Colombia","exports":0},{"year":1971,"country":"Colombia","exports":0},{"year":1972,"country":"Colombia","exports":0},{"year":1973,"country":"Colombia","exports":0},{"year":1974,"country":"Colombia","exports":0},
{"year":1975,"country":"Colombia","exports":0},{"year":1976,"country":"Colombia","exports":0},{"year":1977,"country":"Colombia","exports":0},{"year":1978,"country":"Colombia","exports":0},{"year":1979,"country":"Colombia","exports":0},{"year":1980,"country":"Colombia","exports":0},{"year":1981,"country":"Colombia","exports":0},{"year":1982,"country":"Colombia","exports":0},{"year":1983,"country":"Colombia","exports":0},{"year":1984,"country":"Colombia","exports":0},
{"year":1985,"country":"Colombia","exports":50},{"year":1986,"country":"Colombia","exports":200},{"year":1987,"country":"Colombia","exports":250},{"year":1988,"country":"Colombia","exports":300},{"year":1989,"country":"Colombia","exports":300},{"year":1990,"country":"Colombia","exports":350},{"year":1991,"country":"Colombia","exports":350},{"year":1992,"country":"Colombia","exports":400},{"year":1993,"country":"Colombia","exports":400},{"year":1994,"country":"Colombia","exports":400},
{"year":1995,"country":"Colombia","exports":400},{"year":1996,"country":"Colombia","exports":450},{"year":1997,"country":"Colombia","exports":450},{"year":1998,"country":"Colombia","exports":550},{"year":1999,"country":"Colombia","exports":650},{"year":2000,"country":"Colombia","exports":550},{"year":2001,"country":"Colombia","exports":450},{"year":2002,"country":"Colombia","exports":450},{"year":2003,"country":"Colombia","exports":400},{"year":2004,"country":"Colombia","exports":300},
{"year":2005,"country":"Colombia","exports":250},{"year":2006,"country":"Colombia","exports":200},{"year":2007,"country":"Colombia","exports":200},{"year":2008,"country":"Colombia","exports":200},{"year":2009,"country":"Colombia","exports":150},{"year":2010,"country":"Colombia","exports":150},{"year":2011,"country":"Colombia","exports":130},{"year":2012,"country":"Colombia","exports":110},{"year":2013,"country":"Colombia","exports":90},{"year":2014,"country":"Colombia","exports":70},
{"year":2015,"country":"Colombia","exports":50},{"year":2016,"country":"Colombia","exports":40},{"year":2017,"country":"Colombia","exports":30},{"year":2018,"country":"Colombia","exports":20},{"year":2019,"country":"Colombia","exports":10},{"year":2020,"country":"Colombia","exports":0},

{"year":1965,"country":"Denmark","exports":0},{"year":1966,"country":"Denmark","exports":0},{"year":1967,"country":"Denmark","exports":0},{"year":1968,"country":"Denmark","exports":0},{"year":1969,"country":"Denmark","exports":0},{"year":1970,"country":"Denmark","exports":0},{"year":1971,"country":"Denmark","exports":0},{"year":1972,"country":"Denmark","exports":0},{"year":1973,"country":"Denmark","exports":0},{"year":1974,"country":"Denmark","exports":0},
{"year":1975,"country":"Denmark","exports":0},{"year":1976,"country":"Denmark","exports":0},{"year":1977,"country":"Denmark","exports":0},{"year":1978,"country":"Denmark","exports":0},{"year":1979,"country":"Denmark","exports":0},{"year":1980,"country":"Denmark","exports":0},{"year":1981,"country":"Denmark","exports":0},{"year":1982,"country":"Denmark","exports":0},{"year":1983,"country":"Denmark","exports":0},{"year":1984,"country":"Denmark","exports":0},
{"year":1985,"country":"Denmark","exports":0},{"year":1986,"country":"Denmark","exports":0},{"year":1987,"country":"Denmark","exports":0},{"year":1988,"country":"Denmark","exports":0},{"year":1989,"country":"Denmark","exports":50},{"year":1990,"country":"Denmark","exports":100},{"year":1991,"country":"Denmark","exports":100},{"year":1992,"country":"Denmark","exports":100},{"year":1993,"country":"Denmark","exports":100},{"year":1994,"country":"Denmark","exports":100},
{"year":1995,"country":"Denmark","exports":100},{"year":1996,"country":"Denmark","exports":150},{"year":1997,"country":"Denmark","exports":150},{"year":1998,"country":"Denmark","exports":200},{"year":1999,"country":"Denmark","exports":200},{"year":2000,"country":"Denmark","exports":250},{"year":2001,"country":"Denmark","exports":250},{"year":2002,"country":"Denmark","exports":300},{"year":2003,"country":"Denmark","exports":300},{"year":2004,"country":"Denmark","exports":200},
{"year":2005,"country":"Denmark","exports":100},{"year":2006,"country":"Denmark","exports":50},{"year":2007,"country":"Denmark","exports":50},{"year":2008,"country":"Denmark","exports":50},{"year":2009,"country":"Denmark","exports":50},{"year":2010,"country":"Denmark","exports":0},{"year":2011,"country":"Denmark","exports":0},{"year":2012,"country":"Denmark","exports":0},{"year":2013,"country":"Denmark","exports":0},{"year":2014,"country":"Denmark","exports":0},
{"year":2015,"country":"Denmark","exports":0},{"year":2016,"country":"Denmark","exports":0},{"year":2017,"country":"Denmark","exports":0},{"year":2018,"country":"Denmark","exports":0},{"year":2019,"country":"Denmark","exports":0},{"year":2020,"country":"Denmark","exports":0},

{"year":1965,"country":"Egypt","exports":50},{"year":1966,"country":"Egypt","exports":50},{"year":1967,"country":"Egypt","exports":50},{"year":1968,"country":"Egypt","exports":50},{"year":1969,"country":"Egypt","exports":50},{"year":1970,"country":"Egypt","exports":50},{"year":1971,"country":"Egypt","exports":50},{"year":1972,"country":"Egypt","exports":50},{"year":1973,"country":"Egypt","exports":100},{"year":1974,"country":"Egypt","exports":100},
{"year":1975,"country":"Egypt","exports":100},{"year":1976,"country":"Egypt","exports":200},{"year":1977,"country":"Egypt","exports":300},{"year":1978,"country":"Egypt","exports":350},{"year":1979,"country":"Egypt","exports":400},{"year":1980,"country":"Egypt","exports":400},{"year":1981,"country":"Egypt","exports":400},{"year":1982,"country":"Egypt","exports":400},{"year":1983,"country":"Egypt","exports":400},{"year":1984,"country":"Egypt","exports":400},
{"year":1985,"country":"Egypt","exports":350},{"year":1986,"country":"Egypt","exports":350},{"year":1987,"country":"Egypt","exports":350},{"year":1988,"country":"Egypt","exports":400},{"year":1989,"country":"Egypt","exports":400},{"year":1990,"country":"Egypt","exports":400},{"year":1991,"country":"Egypt","exports":400},{"year":1992,"country":"Egypt","exports":400},{"year":1993,"country":"Egypt","exports":350},{"year":1994,"country":"Egypt","exports":350},
{"year":1995,"country":"Egypt","exports":300},{"year":1996,"country":"Egypt","exports":300},{"year":1997,"country":"Egypt","exports":300},{"year":1998,"country":"Egypt","exports":300},{"year":1999,"country":"Egypt","exports":250},{"year":2000,"country":"Egypt","exports":200},{"year":2001,"country":"Egypt","exports":150},{"year":2002,"country":"Egypt","exports":150},{"year":2003,"country":"Egypt","exports":100},{"year":2004,"country":"Egypt","exports":50},
{"year":2005,"country":"Egypt","exports":0},{"year":2006,"country":"Egypt","exports":0},{"year":2007,"country":"Egypt","exports":0},{"year":2008,"country":"Egypt","exports":0},{"year":2009,"country":"Egypt","exports":0},{"year":2010,"country":"Egypt","exports":0},{"year":2011,"country":"Egypt","exports":0},{"year":2012,"country":"Egypt","exports":0},{"year":2013,"country":"Egypt","exports":0},{"year":2014,"country":"Egypt","exports":0},
{"year":2015,"country":"Egypt","exports":0},{"year":2016,"country":"Egypt","exports":0},{"year":2017,"country":"Egypt","exports":0},{"year":2018,"country":"Egypt","exports":0},{"year":2019,"country":"Egypt","exports":0},{"year":2020,"country":"Egypt","exports":0},

{"year":1965,"country":"UK","exports":0},{"year":1966,"country":"UK","exports":0},{"year":1967,"country":"UK","exports":0},{"year":1968,"country":"UK","exports":0},{"year":1969,"country":"UK","exports":0},{"year":1970,"country":"UK","exports":0},{"year":1971,"country":"UK","exports":0},{"year":1972,"country":"UK","exports":0},{"year":1973,"country":"UK","exports":0},{"year":1974,"country":"UK","exports":0},
{"year":1975,"country":"UK","exports":0},{"year":1976,"country":"UK","exports":0},{"year":1977,"country":"UK","exports":150},{"year":1978,"country":"UK","exports":400},{"year":1979,"country":"UK","exports":450},{"year":1980,"country":"UK","exports":500},{"year":1981,"country":"UK","exports":700},{"year":1982,"country":"UK","exports":900},{"year":1983,"country":"UK","exports":1000},{"year":1984,"country":"UK","exports":1100},
{"year":1985,"country":"UK","exports":1000},{"year":1986,"country":"UK","exports":1000},{"year":1987,"country":"UK","exports":1100},{"year":1988,"country":"UK","exports":1000},{"year":1989,"country":"UK","exports":800},{"year":1990,"country":"UK","exports":600},{"year":1991,"country":"UK","exports":600},{"year":1992,"country":"UK","exports":600},{"year":1993,"country":"UK","exports":600},{"year":1994,"country":"UK","exports":700},
{"year":1995,"country":"UK","exports":700},{"year":1996,"country":"UK","exports":650},{"year":1997,"country":"UK","exports":650},{"year":1998,"country":"UK","exports":1150},{"year":1999,"country":"UK","exports":850},{"year":2000,"country":"UK","exports":1050},{"year":2001,"country":"UK","exports":600},{"year":2002,"country":"UK","exports":550},{"year":2003,"country":"UK","exports":650},{"year":2004,"country":"UK","exports":50},
{"year":2005,"country":"UK","exports":0},{"year":2006,"country":"UK","exports":0},{"year":2007,"country":"UK","exports":0},{"year":2008,"country":"UK","exports":0},{"year":2009,"country":"UK","exports":0},{"year":2010,"country":"UK","exports":0},{"year":2011,"country":"UK","exports":0},{"year":2012,"country":"UK","exports":0},{"year":2013,"country":"UK","exports":0},{"year":2014,"country":"UK","exports":0},
{"year":2015,"country":"UK","exports":0},{"year":2016,"country":"UK","exports":0},{"year":2017,"country":"UK","exports":0},{"year":2018,"country":"UK","exports":0},{"year":2019,"country":"UK","exports":0},{"year":2020,"country":"UK","exports":0}
]},
"transform": [
 {"calculate": "indexof(['Saudi Arabia','F.S.U.','Norway','Venezuela','Iran','UAE','Kuwait','Mexico','Algeria','Qatar','Canada','Malaysia','Ecuador','Argentina','Colombia','Denmark','Egypt','UK'], datum.country)", "as": "k"},
 {"stack": "exports", "groupby": ["year"], "sort": [{"field": "k", "order": "ascending"}], "as": ["y0", "y1"]}
],
"encoding": {
 "x": {"field": "year", "type": "quantitative", "scale": {"domain": [1965, 2020], "nice": false, "zero": false},
  "axis": {"title": null, "grid": false, "format": "d", "tickSize": 5, "labelOverlap": false, "labelFlush": false, "labelPadding": 3,
   "values": [1965,1966,1967,1968,1969,1970,1971,1972,1973,1974,1975,1976,1977,1978,1979,1980,1981,1982,1983,1984,1985,1986,1987,1988,1989,1990,1991,1992,1993,1994,1995,1996,1997,1998,1999,2000,2001,2002,2003,2004,2005,2006,2007,2008,2009,2010,2011,2012,2013,2014,2015,2016,2017,2018,2019,2020],
   "labelExpr": "datum.value % 5 === 0 ? datum.label : ''"}},
 "y": {"field": "y1", "type": "quantitative", "scale": {"domain": [0, 40000], "nice": false},
  "axis": {"title": "Exports (Kb/d/y)", "values": [0,5000,10000,15000,20000,25000,30000,35000,40000], "format": "d", "grid": true, "gridColor": "#8C8C8C", "gridWidth": 1, "tickSize": 6, "labelPadding": 16, "labelFontSize": 15, "titleFontSize": 16, "titleFontWeight": "bold", "titleColor": "#000000", "titlePadding": 20}},
 "y2": {"field": "y0"}
},
"layer": [
 {"mark": {"type": "area", "stroke": "#000000", "strokeWidth": 1, "interpolate": "linear"},
  "encoding": {"color": {"field": "country", "type": "nominal",
   "scale": {"domain": ["Saudi Arabia","F.S.U.","Norway","Venezuela","Iran","UAE","Kuwait","Mexico","Algeria","Qatar","Canada","Malaysia","Ecuador","Argentina","Colombia","Denmark","Egypt","UK"],
    "range": ["#2F5BE0","#F09000","#8A3000","#F4F400","#BFEDED","#F46400","#4A4AA6","#F4F4F4","#8FC010","#F2F0A0","#B4B4B4","#22DDE6","#800080","#800000","#008080","#0000EE","#10C0F0","#E2FCFC"]},
   "legend": {"title": null, "orient": "none", "legendX": -119, "legendY": 548, "columns": 6, "direction": "horizontal",
    "fillColor": "#D5D5F5", "strokeColor": "#333333", "padding": 6, "symbolType": "square", "symbolSize": 81,
    "symbolStrokeColor": "#000000", "symbolStrokeWidth": 1, "labelFont": "Liberation Sans", "labelFontSize": 19, "labelColor": "#111111",
    "columnPadding": 23, "rowPadding": 4, "gridAlign": "all", "symbolOffset": 4, "labelOffset": 5, "labelLimit": 200}}}},
 {"transform": [{"filter": "datum.country === 'Saudi Arabia'"}], "mark": {"type": "area", "stroke": "#000000", "strokeWidth": 1, "fill": {"gradient": "linear", "x1": 0, "y1": 0, "x2": 0, "y2": 1, "stops": [{"offset": 0, "color": "#3A6CFF"}, {"offset": 1, "color": "#1F3CA8"}]}}},
 {"transform": [{"filter": "datum.country === 'F.S.U.'"}], "mark": {"type": "area", "stroke": "#000000", "strokeWidth": 1, "fill": {"gradient": "linear", "x1": 0, "y1": 0, "x2": 0, "y2": 1, "stops": [{"offset": 0, "color": "#FF9C00"}, {"offset": 1, "color": "#D27A00"}]}}},
 {"transform": [{"filter": "datum.country === 'Norway'"}], "mark": {"type": "area", "stroke": "#000000", "strokeWidth": 1, "fill": {"gradient": "linear", "x1": 0, "y1": 0, "x2": 0, "y2": 1, "stops": [{"offset": 0, "color": "#9A3400"}, {"offset": 1, "color": "#6E2400"}]}}},
 {"transform": [{"filter": "datum.country === 'Venezuela'"}], "mark": {"type": "area", "stroke": "#000000", "strokeWidth": 1, "fill": {"gradient": "linear", "x1": 0, "y1": 0, "x2": 0, "y2": 1, "stops": [{"offset": 0, "color": "#FFFF00"}, {"offset": 1, "color": "#D8D800"}]}}},
 {"transform": [{"filter": "datum.country === 'Iran'"}], "mark": {"type": "area", "stroke": "#000000", "strokeWidth": 1, "fill": {"gradient": "linear", "x1": 0, "y1": 0, "x2": 0, "y2": 1, "stops": [{"offset": 0, "color": "#D8FFFF"}, {"offset": 1, "color": "#8EC2C2"}]}}},
 {"transform": [{"filter": "datum.country === 'UAE'"}], "mark": {"type": "area", "stroke": "#000000", "strokeWidth": 1, "fill": {"gradient": "linear", "x1": 0, "y1": 0, "x2": 0, "y2": 1, "stops": [{"offset": 0, "color": "#FF6A00"}, {"offset": 1, "color": "#D05000"}]}}},
 {"transform": [{"filter": "datum.country === 'Kuwait'"}], "mark": {"type": "area", "stroke": "#000000", "strokeWidth": 1, "fill": {"gradient": "linear", "x1": 0, "y1": 0, "x2": 0, "y2": 1, "stops": [{"offset": 0, "color": "#5656B4"}, {"offset": 1, "color": "#3A3A8E"}]}}},
 {"transform": [{"filter": "datum.country === 'Mexico'"}], "mark": {"type": "area", "stroke": "#000000", "strokeWidth": 1, "fill": {"gradient": "linear", "x1": 0, "y1": 0, "x2": 0, "y2": 1, "stops": [{"offset": 0, "color": "#FFFFFF"}, {"offset": 1, "color": "#D4D4D4"}]}}},
 {"transform": [{"filter": "datum.country === 'Algeria'"}], "mark": {"type": "area", "stroke": "#000000", "strokeWidth": 1, "fill": {"gradient": "linear", "x1": 0, "y1": 0, "x2": 0, "y2": 1, "stops": [{"offset": 0, "color": "#9ACC00"}, {"offset": 1, "color": "#78A000"}]}}},
 {"transform": [{"filter": "datum.country === 'Qatar'"}], "mark": {"type": "area", "stroke": "#000000", "strokeWidth": 1, "fill": {"gradient": "linear", "x1": 0, "y1": 0, "x2": 0, "y2": 1, "stops": [{"offset": 0, "color": "#FFFFAA"}, {"offset": 1, "color": "#D8D890"}]}}},
 {"transform": [{"filter": "datum.country === 'Canada'"}], "mark": {"type": "area", "stroke": "#000000", "strokeWidth": 1, "fill": {"gradient": "linear", "x1": 0, "y1": 0, "x2": 0, "y2": 1, "stops": [{"offset": 0, "color": "#C8C8C8"}, {"offset": 1, "color": "#909090"}]}}},
 {"transform": [{"filter": "datum.country === 'Malaysia'"}], "mark": {"type": "area", "stroke": "#000000", "strokeWidth": 1, "fill": {"gradient": "linear", "x1": 0, "y1": 0, "x2": 0, "y2": 1, "stops": [{"offset": 0, "color": "#33FFFF"}, {"offset": 1, "color": "#00B8C0"}]}}},
 {"transform": [{"filter": "datum.country === 'Ecuador'"}], "mark": {"type": "area", "stroke": "#000000", "strokeWidth": 1, "fill": {"gradient": "linear", "x1": 0, "y1": 0, "x2": 0, "y2": 1, "stops": [{"offset": 0, "color": "#8A008A"}, {"offset": 1, "color": "#600060"}]}}},
 {"transform": [{"filter": "datum.country === 'Argentina'"}], "mark": {"type": "area", "stroke": "#000000", "strokeWidth": 1, "fill": {"gradient": "linear", "x1": 0, "y1": 0, "x2": 0, "y2": 1, "stops": [{"offset": 0, "color": "#8A0000"}, {"offset": 1, "color": "#600000"}]}}},
 {"transform": [{"filter": "datum.country === 'Colombia'"}], "mark": {"type": "area", "stroke": "#000000", "strokeWidth": 1, "fill": {"gradient": "linear", "x1": 0, "y1": 0, "x2": 0, "y2": 1, "stops": [{"offset": 0, "color": "#009090"}, {"offset": 1, "color": "#006060"}]}}},
 {"transform": [{"filter": "datum.country === 'Denmark'"}], "mark": {"type": "area", "stroke": "#000000", "strokeWidth": 1, "fill": {"gradient": "linear", "x1": 0, "y1": 0, "x2": 0, "y2": 1, "stops": [{"offset": 0, "color": "#0000FF"}, {"offset": 1, "color": "#0000B0"}]}}},
 {"transform": [{"filter": "datum.country === 'Egypt'"}], "mark": {"type": "area", "stroke": "#000000", "strokeWidth": 1, "fill": {"gradient": "linear", "x1": 0, "y1": 0, "x2": 0, "y2": 1, "stops": [{"offset": 0, "color": "#22CCFF"}, {"offset": 1, "color": "#0099CC"}]}}},
 {"transform": [{"filter": "datum.country === 'UK'"}], "mark": {"type": "area", "stroke": "#000000", "strokeWidth": 1, "fill": {"gradient": "linear", "x1": 0, "y1": 0, "x2": 0, "y2": 1, "stops": [{"offset": 0, "color": "#F0FFFF"}, {"offset": 1, "color": "#BCDADA"}]}}}
]
}
